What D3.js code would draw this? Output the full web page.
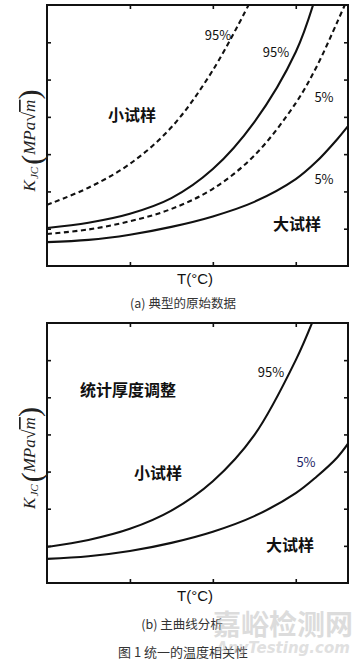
<!DOCTYPE html>
<html><head><meta charset="utf-8">
<script src="https://cdn.jsdelivr.net/npm/d3@7"></script>
<style>
html,body{margin:0;padding:0;background:#fff;}
svg{display:block;}
</style></head>
<body>
<svg id="c" width="364" height="667"></svg>
<script>
// ---- data ----
const temps = [0, 0.5, 1.0, 1.5, 2.0, 2.5, 3.0, 3.25, 3.5, 3.63];
const xTicks = [1, 2, 3];
const yTicks = [1, 2, 3, 4, 5, 6];
// panel (a) typical raw data
const aSmall95 = [1.64, 2.10, 2.74, 3.72, 5.25, 7.30];                        // dashed
const aSmall5  = [0.86, 0.98, 1.20, 1.53, 2.07, 2.96, 4.37, 5.34, 6.54, 7.20]; // dashed
const aLarge95 = [1.02, 1.16, 1.40, 1.82, 2.60, 3.86, 5.74, 7.30];             // solid
const aLarge5  = [0.64, 0.70, 0.84, 1.05, 1.33, 1.72, 2.33, 2.80, 3.40, 3.75]; // solid
// panel (b) master curve
const b95 = [0.97, 1.16, 1.46, 1.95, 2.74, 3.98, 6.00, 7.30];
const b5  = [0.65, 0.72, 0.86, 1.08, 1.38, 1.80, 2.42, 2.86, 3.38, 3.75];

const svg = d3.select("#c");
const L = 47, R = 348;
const x = d3.scaleLinear().domain([0, 3.63]).range([L, R]);

function panel(id, top, bottom, series, labels) {
  const y = d3.scaleLinear().domain([0, 7]).range([bottom, top]);
  const g = svg.append("g");
  g.append("clipPath").attr("id", "clip" + id)
    .append("rect").attr("x", L).attr("y", top).attr("width", R - L).attr("height", bottom - top);
  const line = d3.line().x((d, i) => x(temps[i])).y(d => y(d)).curve(d3.curveCatmullRom.alpha(0.5));
  series.forEach(s => {
    g.append("path").attr("d", line(s.v)).attr("clip-path", `url(#clip${id})`)
      .attr("fill", "none").attr("stroke", "#111").attr("stroke-width", 2.1)
      .attr("stroke-dasharray", s.dash ? "5,3.5" : null);
  });
  const ax = [
    [d3.axisBottom(x).tickValues(xTicks), `translate(0,${bottom})`],
    [d3.axisTop(x).tickValues(xTicks), `translate(0,${top})`],
    [d3.axisLeft(y).tickValues(yTicks), `translate(${L},0)`],
    [d3.axisRight(y).tickValues(yTicks), `translate(${R},0)`]
  ];
  ax.forEach(([a, t]) => {
    const gg = g.append("g").attr("transform", t).call(a.tickSize(-4).tickFormat(""));
    gg.select(".domain").remove();
    gg.selectAll("line").attr("stroke", "#111").attr("stroke-width", 1.6);
  });
  g.append("rect").attr("x", L).attr("y", top).attr("width", R - L).attr("height", bottom - top)
    .attr("fill", "none").attr("stroke", "#111").attr("stroke-width", 2);
  labels.forEach(l => {
    g.append("text").attr("x", l.x).attr("y", l.y).text(l.t)
      .attr("text-anchor", "middle")
      .attr("font-family", "'Noto Sans CJK SC', 'Noto Sans', sans-serif")
      .attr("font-size", l.s).attr("font-weight", l.b ? 700 : 400)
      .attr("fill", l.c || "#111");
  });
  // y label
  const yl = g.append("text")
    .attr("transform", `translate(35,${(top + bottom) / 2 + 5}) rotate(-90)`)
    .attr("text-anchor", "middle")
    .attr("font-family", "'Liberation Serif','DejaVu Serif',serif")
    .attr("fill", "#222");
  yl.append("tspan").attr("font-style", "italic").attr("font-size", 17).text("K");
  yl.append("tspan").attr("font-style", "italic").attr("font-size", 11).attr("dy", 3).attr("dx", 1).text("JC");
  yl.append("tspan").attr("font-size", 30).attr("dy", 4).attr("dx", 2).text("(");
  yl.append("tspan").attr("font-style", "italic").attr("font-size", 17).attr("dy", -7).text("MPa");
  yl.append("tspan").attr("font-size", 18).text("√");
  yl.append("tspan").attr("font-style", "italic").attr("font-size", 17).attr("text-decoration", "overline").text("m");
  yl.append("tspan").attr("font-size", 30).attr("dy", 4).text(")");
  // x label
  g.append("text").attr("x", 195).attr("y", bottom + 18).attr("text-anchor", "middle")
    .attr("font-family", "Arial, 'Liberation Sans', sans-serif").attr("font-size", 15).attr("fill", "#111")
    .text("T(°C)");
}

panel("a", 5, 266, [
  {v: aSmall95, dash: true}, {v: aSmall5, dash: true},
  {v: aLarge95, dash: false}, {v: aLarge5, dash: false}
], [
  {t: "95%", x: 218, y: 40, s: 13},
  {t: "95%", x: 276, y: 57, s: 13},
  {t: "5%", x: 324, y: 102, s: 13},
  {t: "5%", x: 324, y: 184, s: 13},
  {t: "小试样", x: 132, y: 121, s: 16, b: true},
  {t: "大试样", x: 297, y: 230, s: 16, b: true}
]);

panel("b", 323, 583, [
  {v: b95, dash: false}, {v: b5, dash: false}
], [
  {t: "95%", x: 271, y: 377, s: 13},
  {t: "5%", x: 306, y: 467, s: 13, c: "#1c2466"},
  {t: "统计厚度调整", x: 128, y: 396, s: 16, b: true},
  {t: "小试样", x: 158, y: 479, s: 16, b: true},
  {t: "大试样", x: 290, y: 551, s: 16, b: true}
]);

// captions
const cap = (t, xx, yy, s) => svg.append("text").attr("x", xx).attr("y", yy).attr("text-anchor", "middle")
  .attr("font-family", "'Noto Sans CJK SC', 'Noto Sans', sans-serif").attr("font-size", s).attr("fill", "#333").text(t);
cap("(a) 典型的原始数据", 183, 308, 12.5);
cap("(b) 主曲线分析", 182, 629, 12.5);
cap("图 1 统一的温度相关性", 183, 657, 13);

// watermark
svg.append("text").attr("x", 283).attr("y", 635).attr("text-anchor", "middle")
  .attr("font-family", "'Noto Sans CJK SC', sans-serif").attr("font-size", 28).attr("font-weight", 700)
  .attr("fill", "#bbb").attr("opacity", 0.5).text("嘉峪检测网");
svg.append("text").attr("x", 283).attr("y", 653).attr("text-anchor", "middle")
  .attr("font-family", "'DejaVu Sans', sans-serif").attr("font-size", 15).attr("font-weight", 700).attr("font-style", "italic")
  .attr("fill", "#bbb").attr("opacity", 0.45).text("AnyTesting.com");
</script>
</body></html>
